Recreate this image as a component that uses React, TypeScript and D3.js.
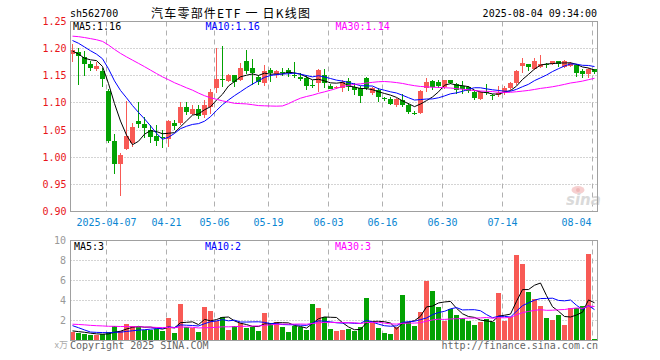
import React from "react";
import * as d3 from "d3";

// ---- data ----
const opens = [1.191,1.193,1.185,1.171,1.163,1.158,1.122,1.029,0.987,1.015,
1.027,1.066,1.061,1.051,1.039,1.038,1.033,1.063,1.063,1.092,
1.080,1.089,1.077,1.093,1.127,1.144,1.141,1.151,1.143,1.177,
1.164,1.147,1.136,1.160,1.153,1.157,1.160,1.152,1.148,1.146,
1.133,1.136,1.152,1.132,1.128,1.128,1.140,1.130,1.127,1.146,
1.118,1.123,1.109,1.108,1.096,1.106,1.096,1.082,1.081,1.128,
1.141,1.139,1.130,1.142,1.135,1.132,1.129,1.121,1.107,1.121,
1.114,1.115,1.118,1.128,1.137,1.168,1.171,1.163,1.166,1.172,
1.172,1.177,1.166,1.168,1.170,1.159,1.153,1.162];
const highs = [1.209,1.202,1.195,1.178,1.176,1.165,1.126,1.043,1.008,1.104,
1.063,1.102,1.075,1.060,1.060,1.051,1.069,1.069,1.101,1.102,
1.096,1.097,1.106,1.126,1.202,1.204,1.153,1.152,1.174,1.197,
1.181,1.152,1.169,1.164,1.161,1.165,1.164,1.175,1.155,1.152,
1.142,1.162,1.162,1.134,1.131,1.142,1.145,1.136,1.131,1.147,
1.130,1.128,1.111,1.111,1.109,1.116,1.099,1.085,1.123,1.145,
1.143,1.142,1.143,1.143,1.136,1.141,1.131,1.122,1.122,1.135,
1.116,1.131,1.131,1.138,1.160,1.183,1.172,1.182,1.188,1.173,
1.178,1.177,1.179,1.175,1.171,1.163,1.164,1.163];
const lows = [1.176,1.133,1.150,1.159,1.158,1.129,1.027,0.969,0.929,1.013,
1.019,1.054,1.036,1.027,1.021,1.017,1.018,1.051,1.060,1.077,
1.077,1.071,1.072,1.080,1.118,1.130,1.138,1.129,1.140,1.153,
1.133,1.133,1.132,1.138,1.146,1.149,1.147,1.145,1.140,1.124,
1.128,1.121,1.127,1.125,1.126,1.120,1.122,1.115,1.100,1.124,
1.114,1.102,1.104,1.096,1.093,1.093,1.079,1.077,1.079,1.121,
1.123,1.127,1.126,1.134,1.116,1.116,1.118,1.106,1.105,1.115,
1.106,1.111,1.115,1.124,1.133,1.155,1.159,1.160,1.165,1.165,
1.170,1.166,1.165,1.166,1.148,1.146,1.145,1.153];
const closes = [1.198,1.187,1.172,1.165,1.168,1.144,1.029,0.988,1.004,1.039,
1.055,1.061,1.053,1.037,1.030,1.035,1.066,1.058,1.092,1.083,
1.089,1.076,1.097,1.120,1.144,1.143,1.152,1.138,1.164,1.158,
1.155,1.138,1.159,1.155,1.159,1.156,1.155,1.151,1.144,1.132,
1.131,1.160,1.136,1.126,1.129,1.138,1.129,1.124,1.113,1.128,
1.128,1.110,1.108,1.098,1.107,1.096,1.084,1.081,1.122,1.138,
1.130,1.131,1.142,1.137,1.124,1.125,1.122,1.109,1.121,1.118,
1.113,1.119,1.128,1.136,1.159,1.174,1.166,1.177,1.172,1.170,
1.177,1.172,1.177,1.174,1.155,1.153,1.163,1.157];
// closes before the visible window (needed only for moving averages)
const priorCloses = [1.215,1.22,1.225,1.23,1.235,1.232,1.228,1.225,1.23,1.236,
1.24,1.235,1.228,1.22,1.218,1.222,1.226,1.23,1.225,1.22,
1.238,1.24,1.235,1.23,1.229,1.215,1.21,1.18,1.175];
const volumes = [0.85,0.74,0.67,0.5,0.57,0.67,0.9,1.5,1.0,1.67,
1.5,1.4,1.07,1.07,1.14,1.0,2.3,0.8,3.67,1.33,
1.23,0.9,3.4,2.97,1.97,2.33,1.07,1.47,1.8,1.3,
1.4,1.0,2.8,1.8,1.9,1.4,0.9,1.5,1.33,1.07,
3.67,3.3,2.4,1.17,0.97,1.07,1.17,1.0,1.33,4.3,
1.73,1.23,0.8,0.67,1.33,4.57,1.83,1.5,2.9,6.0,
4.97,3.4,2.0,3.17,2.57,2.23,2.0,1.57,1.83,2.17,
1.83,4.8,2.0,2.4,8.57,7.67,4.83,4.17,3.5,2.3,
2.07,2.57,1.57,3.23,3.3,3.5,8.67,0.17];
const priorVolumes = [1.5,1.8,2.0,1.6,1.4,1.9,1.7,1.5,1.8,2.1,
1.6,1.5,1.7,1.9,1.6,1.8,1.7,1.5,1.6,1.8,
2.8,2.9,2.6,0.9,0.85,1.1,1.0,0.95,0.9];

const tickLabels = ["2025-04-07","04-21","05-06","05-19","06-03","06-16","06-30","07-14","08-04"];
const tickIndex = [6,16,24,33,43,52,62,72,87];
const priceTicks = [1.25,1.20,1.15,1.10,1.05,1.00,0.95,0.90];
const volTicks = [10,8,6,4,2];
const priceMaLabels = ["MA5:1.16","MA10:1.16","MA30:1.14"];
const volMaLabels = ["MA5:3","MA10:2","MA30:3"];
const maPeriods = [5,10,30];

const RED = "#f85a55";
const GREEN = "#03a203";
const MA_COLORS = ["#000000","#0000ff","#ff00ff"];
const MONO = "'DejaVu Sans Mono', 'Liberation Mono', monospace";
const CJK = "'Noto Sans CJK SC', sans-serif";

function movingAvg(prior: number[], vals: number[], p: number): number[] {
  const all = prior.concat(vals);
  const off = prior.length;
  return vals.map((_, i) => d3.mean(all.slice(off + i - p + 1, off + i + 1)) as number);
}

export default function App() {
  const n = closes.length;
  const pL = 70.5, pR = 597.5, pT = 21.5, pB = 211.5;
  const vT = 240.5, vB = 340.5;
  const band = d3.scaleBand<number>().domain(d3.range(n)).range([69.5, 597.5]);
  const cx = (i: number) => (band(i) as number) + band.step() / 2;
  const y = d3.scaleLinear().domain([0.9, 1.25]).range([pB, pT]);
  const yv = d3.scaleLinear().domain([0, 10]).range([vB, vT]);
  const crisp = (v: number) => Math.round(v - 0.5) + 0.5;

  const priceMAs = maPeriods.map((p) => movingAvg(priorCloses, closes, p));
  const volMAs = maPeriods.map((p) => movingAvg(priorVolumes, volumes, p));
  const lineP = d3.line<number>().x((_, i) => cx(i)).y((d) => y(d));
  const lineV = d3.line<number>().x((_, i) => cx(i)).y((d) => yv(d));

  return (
    <svg width={660} height={360} style={{ position: "absolute", left: 0, top: 0, background: "#fff" }}>
      <rect x={0} y={0} width={660} height={360} fill="#fff" />
      {/* header */}
      <text x={70} y={17} fontFamily={MONO} fontSize={10} fill="#000">sh562700</text>
      <text x={151} y={17.5} fontFamily={CJK} fontSize={12} fill="#000" textLength={159} lengthAdjust="spacing">汽车零部件ETF 一 日K线图</text>
      <text x={597} y={17} fontFamily={MONO} fontSize={10} fill="#000" textAnchor="end">2025-08-04 09:34:00</text>

      {/* price grid */}
      {priceTicks.slice(1, -1).map((t) => (
        <line key={"hg" + t} x1={pL} x2={pR} y1={crisp(y(t))} y2={crisp(y(t))} stroke="#a8a8a8" strokeDasharray="1,2" />
      ))}
      {tickIndex.map((ti) => (
        <line key={"vg" + ti} x1={cx(ti) - 2} x2={cx(ti) - 2} y1={pT} y2={pB} stroke="#b0b0b0" strokeDasharray="5,4" />
      ))}
      {/* volume grid */}
      {volTicks.slice(1).map((t) => (
        <line key={"vhg" + t} x1={pL} x2={pR} y1={crisp(yv(t))} y2={crisp(yv(t))} stroke="#a8a8a8" strokeDasharray="1,2" />
      ))}
      {tickIndex.map((ti) => (
        <line key={"vvg" + ti} x1={cx(ti) - 2} x2={cx(ti) - 2} y1={vT} y2={vB} stroke="#b0b0b0" strokeDasharray="5,4" />
      ))}

      {/* watermark */}
      <g opacity={0.9}>
        <ellipse cx={578} cy={190} rx={6.5} ry={4} fill="#f6cccc" />
        <circle cx={578} cy={190} r={2} fill="#eeb0b0" />
        <text x={566} y={205} fontFamily="'DejaVu Sans', sans-serif" fontSize={15} fontWeight="bold" fontStyle="italic" fill="#d6d6d6">sina</text>
      </g>

      {/* candles */}
      {closes.map((c, i) => {
        const o = opens[i];
        const up = c >= o;
        const col = up ? RED : GREEN;
        const top = Math.round(y(Math.max(o, c)));
        const bot = Math.round(y(Math.min(o, c)));
        const x = cx(i);
        return (
          <g key={"c" + i}>
            <line x1={x} x2={x} y1={Math.round(y(highs[i]))} y2={Math.round(y(lows[i]))} stroke={col} />
            <rect x={x - 2.5} y={top} width={5} height={Math.max(1, bot - top)} fill={col} />
          </g>
        );
      })}
      {priceMAs.map((m, k) => (
        <path key={"pm" + k} d={lineP(m) as string} fill="none" stroke={MA_COLORS[k]} strokeWidth={1} />
      ))}

      {/* volume bars */}
      {volumes.map((v, i) => {
        const col = closes[i] >= opens[i] ? RED : GREEN;
        const top = Math.round(yv(v));
        return <rect key={"v" + i} x={cx(i) - 2.5} y={top} width={5} height={Math.max(1, 340 - top)} fill={col} />;
      })}
      {volMAs.map((m, k) => (
        <path key={"vm" + k} d={lineV(m) as string} fill="none" stroke={MA_COLORS[k]} strokeWidth={1} />
      ))}

      {/* frames */}
      <rect x={pL} y={pT} width={pR - pL} height={pB - pT} fill="none" stroke="#a0a0a0" />
      <rect x={pL} y={vT} width={pR - pL} height={vB - vT} fill="none" stroke="#a0a0a0" />

      {/* price axis labels */}
      {priceTicks.map((t) => (
        <text key={"pl" + t} x={66.5} y={y(t) + 3.5} textAnchor="end" fontFamily={MONO} fontSize={10} fill="#e8141a">{t.toFixed(2)}</text>
      ))}
      {/* date labels */}
      {tickIndex.map((ti, k) => {
        const tx = cx(ti) - 2;
        const w = tickLabels[k].length * 6;
        const anchorX = Math.min(tx, pR - 6 - w / 2);
        return (
          <text key={"dl" + k} x={anchorX} y={225.5} textAnchor="middle" fontFamily={MONO} fontSize={10} fill="#0a86d2">{tickLabels[k]}</text>
        );
      })}
      {/* volume axis labels */}
      {volTicks.map((t) => (
        <text key={"vl" + t} x={66} y={yv(t) + 3.5} textAnchor="end" fontFamily={MONO} fontSize={10} fill="#999">{t}</text>
      ))}
      <text x={68} y={348} textAnchor="end" fontFamily={CJK} fontSize={9} fill="#aaa">x万</text>

      {/* MA legends */}
      {priceMaLabels.map((s, k) => (
        <text key={"pml" + k} x={[73, 205.5, 335.5][k]} y={29.5} fontFamily={MONO} fontSize={10} fill={MA_COLORS[k]}>{s}</text>
      ))}
      {volMaLabels.map((s, k) => (
        <text key={"vml" + k} x={[74, 205, 335][k]} y={250} fontFamily={MONO} fontSize={10} fill={MA_COLORS[k]}>{s}</text>
      ))}

      {/* footer */}
      <text x={70} y={349} fontFamily={MONO} fontSize={10} fill="#666">Copyright 2025 SINA.COM</text>
      <text x={598} y={349} textAnchor="end" fontFamily={MONO} fontSize={10} fill="#666">http://finance.sina.com.cn</text>
    </svg>
  );
}
